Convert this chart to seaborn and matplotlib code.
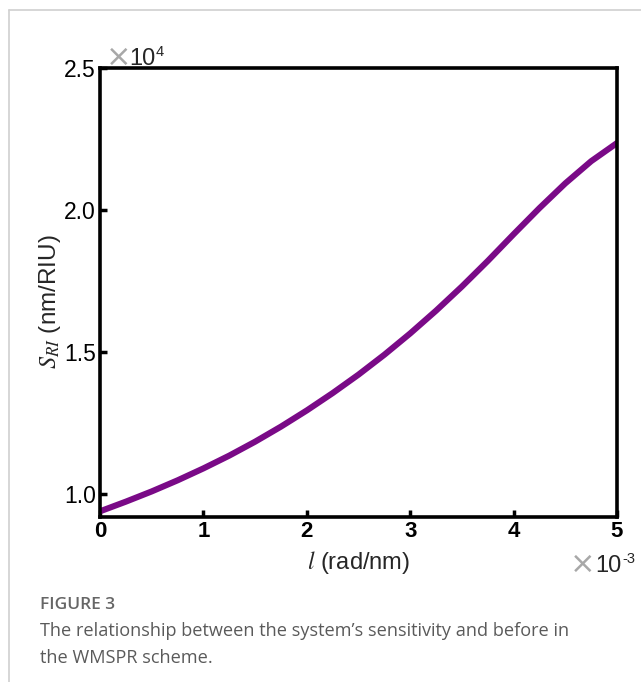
import numpy as np
import pandas as pd
import matplotlib
matplotlib.use("Agg")
import matplotlib.pyplot as plt
import seaborn as sns
from matplotlib.lines import Line2D

# Data (x in units of 1e-3 rad/nm, y in units of 1e4 nm/RIU)
l_vals = [0.0, 0.25, 0.5, 0.75, 1.0, 1.25, 1.5, 1.75, 2.0, 2.25, 2.5, 2.75, 3.0,
          3.25, 3.5, 3.75, 4.0, 4.25, 4.5, 4.75, 5.0]
s_vals = [0.940, 0.974, 1.010, 1.049, 1.091, 1.136, 1.185, 1.238, 1.295, 1.356, 1.421, 1.491, 1.566,
          1.646, 1.731, 1.821, 1.915, 2.007, 2.094, 2.172, 2.236]
x_ticks = [0, 1, 2, 3, 4, 5]
y_ticks = [1.0, 1.5, 2.0, 2.5]
y_tick_labels = ["1.0", "1.5", "2.0", "2.5"]

df = pd.DataFrame({"l": l_vals, "S": s_vals})

sns.set_theme(style="white")
plt.rcParams["font.family"] = ["Liberation Sans", "DejaVu Sans"]
plt.rcParams["mathtext.fontset"] = "stix"

W, H = 641, 682
fig = plt.figure(figsize=(W / 100, H / 100), dpi=100)
ax = fig.add_axes([100 / W, 1 - 517 / H, 517 / W, 449 / H])

sns.lineplot(data=df, x="l", y="S", ax=ax, color="#7a0a87", linewidth=4.4)

ax.set_xlim(0, 5)
ax.set_ylim(0.92, 2.5)
ax.set_xticks(x_ticks)
ax.set_xticklabels([str(t) for t in x_ticks], fontsize=16, fontweight="bold")
ax.set_yticks(y_ticks)
ax.set_yticklabels(y_tick_labels, fontsize=16.5)
ax.tick_params(axis="both", direction="in", length=5, width=2.5, colors="black",
               left=True, bottom=True, top=False, right=False)
ax.tick_params(axis="y", pad=3)
ax.tick_params(axis="x", pad=3)
for sp in ax.spines.values():
    sp.set_visible(True)
    sp.set_color("black")
    sp.set_linewidth(2.6)

ax.set_xlabel(r"$\mathit{l}$ (rad/nm)", fontsize=17)
ax.set_ylabel(r"$\mathit{S}_{\mathit{RI}}$ (nm/RIU)", fontsize=17.5)
ax.xaxis.set_label_coords(0.5, -0.072)
ax.yaxis.set_label_coords(-0.072, 0.48)

# scale multipliers
def multiplier(x_times, x_ten, x_sup, base_y, sup):
    fig.text(x_times / W, 1 - (base_y + 1) / H, "\u00d7", fontsize=22, color="#a8a8a8",
             va="baseline", ha="left", family=["DejaVu Sans"])
    fig.text(x_ten / W, 1 - base_y / H, "10", fontsize=17, va="baseline", ha="left")
    fig.text(x_sup / W, 1 - (base_y - 9) / H, sup, fontsize=10.5, va="baseline", ha="left")

multiplier(106, 129, 156, 65, "4")
multiplier(570, 595, 622, 572, "-3")

# card border (left and top)
fig.add_artist(Line2D([9 / W, 9 / W], [0, 1 - 10 / H], transform=fig.transFigure,
                      color="#d0d0d0", linewidth=1.2))
fig.add_artist(Line2D([9 / W, 1], [1 - 10 / H, 1 - 10 / H], transform=fig.transFigure,
                      color="#d0d0d0", linewidth=1.2))

# caption
fig.text(40 / W, 1 - 609 / H, "FIGURE 3", fontsize=12.5, color="#666666",
         family=["Open Sans", "DejaVu Sans"], fontweight="semibold", va="baseline")
fig.text(40 / W, 1 - 636 / H, "The relationship between the system\u2019s sensitivity and before in",
         fontsize=13.1, color="#5a5a5a", family=["Open Sans", "DejaVu Sans"], va="baseline")
fig.text(40 / W, 1 - 663 / H, "the WMSPR scheme.",
         fontsize=13.1, color="#5a5a5a", family=["Open Sans", "DejaVu Sans"], va="baseline")

fig.savefig("out.png", dpi=100)
